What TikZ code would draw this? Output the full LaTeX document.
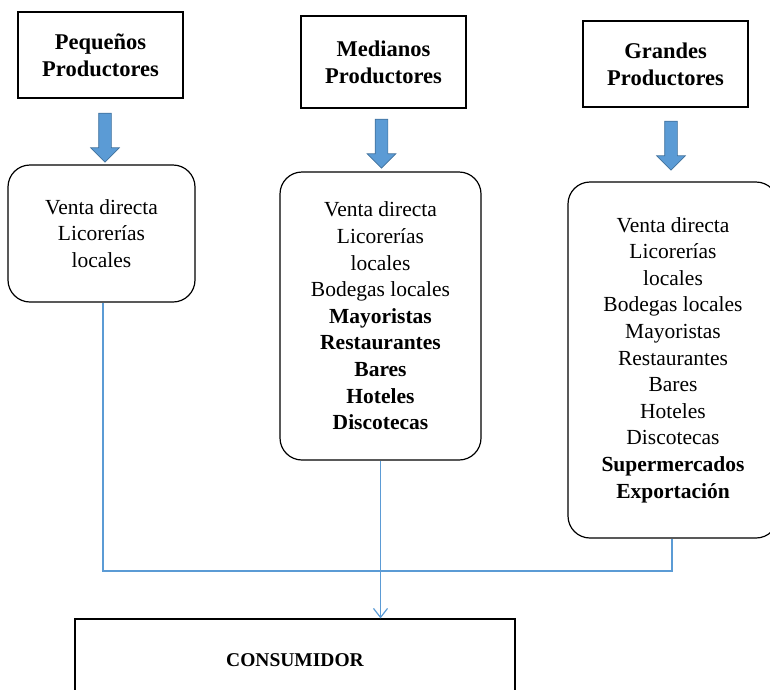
\documentclass[tikz,border=0pt]{standalone}
\usepackage{fontspec}
\setmainfont{Liberation Serif}
\usetikzlibrary{shapes.arrows,arrows.meta}
\definecolor{flowblue}{HTML}{5B9BD5}
\definecolor{flowedge}{HTML}{41719C}

\begin{document}
\begin{tikzpicture}[x=1pt,y=-1pt,
    productor/.style={draw, line width=1.2pt, align=center, inner sep=0pt,
      font=\fontsize{22.5}{27}\selectfont\bfseries},
    canal/.style={draw, line width=1.2pt, rounded corners=22pt, align=center, inner sep=0pt,
      font=\fontsize{21.5}{26.6}\selectfont},
    bajada/.style={single arrow, draw=flowedge, fill=flowblue, line width=0.7pt,
      shape border rotate=270, inner sep=6pt, minimum height=49pt,
      single arrow head extend=8pt},
    enlace/.style={draw=flowblue, line width=1.2pt}]
    \useasboundingbox (0,0) rectangle (770,689);

    % productores
    \node[productor, minimum width=165pt, minimum height=86pt] (peq) at (100.5,55) {Pequeños\\Productores};
    \node[productor, minimum width=165pt, minimum height=92pt] (med) at (383.5,62) {Medianos\\Productores};
    \node[productor, minimum width=165pt, minimum height=86pt] (gra) at (665.5,64) {Grandes\\Productores};

    % flechas
    \node[bajada] (fpeq) at (105,134.5) {};
    \node[bajada] (fmed) at (381.5,140.5) {};
    \node[bajada] (fgra) at (671,142.5) {};

    % canales de venta
    \node[canal, minimum width=187pt, minimum height=137pt] (cpeq) at (101.5,233.5)
      {Venta directa\\Licorerías\\locales};
    \node[canal, minimum width=201pt, minimum height=288pt] (cmed) at (380.5,316)
      {Venta directa\\Licorerías\\locales\\Bodegas locales\\\textbf{Mayoristas}\\\textbf{Restaurantes}\\\textbf{Bares}\\\textbf{Hoteles}\\\textbf{Discotecas}};
    \node[canal, minimum width=210pt, minimum height=356pt] (cgra) at (673,360)
      {Venta directa\\Licorerías\\locales\\Bodegas locales\\Mayoristas\\Restaurantes\\Bares\\Hoteles\\Discotecas\\\textbf{Supermercados}\\\textbf{Exportación}};

    % consumidor
    \node[draw, line width=1.2pt, minimum width=440pt, minimum height=82pt,
      font=\fontsize{19.5}{24}\selectfont\bfseries] (cons) at (295,660) {CONSUMIDOR};

    % conexiones
    \coordinate (union) at (380.5,571);
    \draw[enlace] (cpeq.south -| 103,0) |- (union) -| (cgra.south -| 672,0);
    \draw[enlace, -{Straight Barb[length=9pt,width=14pt,line width=1.2pt]}] (cmed.south) -- (cmed.south |- cons.north);
\end{tikzpicture}
\end{document}
